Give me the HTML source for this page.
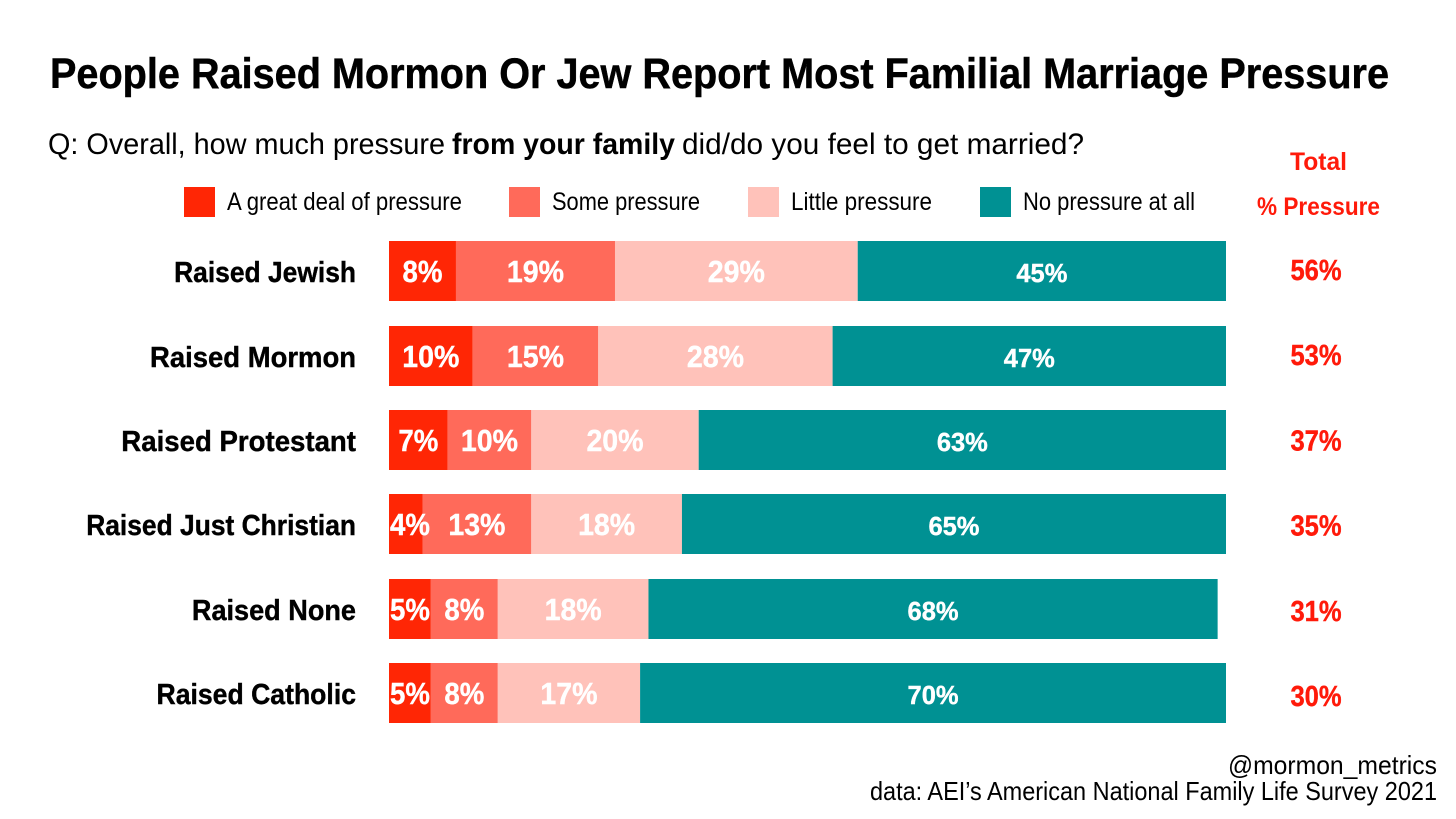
<!DOCTYPE html>
<html lang="en">
<head>
<meta charset="utf-8">
<title>People Raised Mormon Or Jew Report Most Familial Marriage Pressure</title>
<style>
html,body{margin:0;padding:0;background:#fff;width:1456px;height:819px;overflow:hidden}
svg{display:block}
text{font-family:"Liberation Sans",sans-serif}
.b{font-weight:700}
</style>
</head>
<body>
<svg id="chart" xmlns="http://www.w3.org/2000/svg" width="1456" height="819" viewBox="0 0 1456 819">
<rect width="1456" height="819" fill="#fff"/>
<text class="b" x="50" y="88" font-size="43" fill="#000" stroke="#000" stroke-width="0.5" textLength="1339" lengthAdjust="spacingAndGlyphs">People Raised Mormon Or Jew Report Most Familial Marriage Pressure</text>
<text y="154" font-size="30" fill="#000"><tspan x="48" textLength="397" lengthAdjust="spacingAndGlyphs">Q: Overall, how much pressure</tspan><tspan class="b" x="452" textLength="223" lengthAdjust="spacingAndGlyphs">from your family</tspan><tspan x="682" textLength="402" lengthAdjust="spacingAndGlyphs">did/do you feel to get married?</tspan></text>

<g>
<rect x="184" y="187" width="31" height="30" fill="#ff2605"/>
<text x="227" y="210" font-size="25" textLength="235" lengthAdjust="spacingAndGlyphs">A great deal of pressure</text>
<rect x="509" y="187" width="31" height="30" fill="#ff6a5a"/>
<text x="552" y="210" font-size="25" textLength="148" lengthAdjust="spacingAndGlyphs">Some pressure</text>
<rect x="748" y="187" width="31" height="30" fill="#ffc2ba"/>
<text x="791" y="210" font-size="25" textLength="141" lengthAdjust="spacingAndGlyphs">Little pressure</text>
<rect x="980" y="187" width="31" height="30" fill="#009193"/>
<text x="1023" y="210" font-size="25" textLength="172" lengthAdjust="spacingAndGlyphs">No pressure at all</text>
</g>

<text class="b" x="1290" y="170" font-size="25" fill="#ff1a0a" textLength="57" lengthAdjust="spacingAndGlyphs">Total</text>
<text class="b" x="1257" y="215" font-size="25" fill="#ff1a0a" textLength="123" lengthAdjust="spacingAndGlyphs">% Pressure</text>

<g id="plot"></g>

<text x="1437" y="774" font-size="26" text-anchor="end" textLength="209" lengthAdjust="spacingAndGlyphs">@mormon_metrics</text>
<text x="1437" y="800" font-size="26" text-anchor="end" textLength="567" lengthAdjust="spacingAndGlyphs">data: AEI’s American National Family Life Survey 2021</text>
</svg>
<script>
const categories = ["Raised Jewish", "Raised Mormon", "Raised Protestant", "Raised Just Christian", "Raised None", "Raised Catholic"];
const greatDeal = [8, 10, 7, 4, 5, 5];
const somePressure = [19, 15, 10, 13, 8, 8];
const littlePressure = [29, 28, 20, 18, 18, 17];
const noPressure = [45, 47, 63, 65, 68, 70];
const totalPressure = [56, 53, 37, 35, 31, 30];

const seriesNames = ["great-deal", "some", "little", "none"];
const seriesValues = [greatDeal, somePressure, littlePressure, noPressure];
const seriesColors = ["#ff2605", "#ff6a5a", "#ffc2ba", "#009193"];
const categoryFit = {"Raised Jewish": 0.91, "Raised Mormon": 0.947, "Raised Protestant": 0.952, "Raised Just Christian": 0.91, "Raised None": 0.934, "Raised Catholic": 0.917};

const NS = "http://www.w3.org/2000/svg";
const plot = document.getElementById("plot");
function xScale(v) { return 389 + Math.min(v, 100) * 8.37; }
function yBar(i) { return Math.round(241.2 + i * 84.4); }
function yTotal(i) { return 271 + i * 85.2; }
const barHeight = 60;

function makeText(str, x, y, size, fill, anchor, squeeze) {
  const t = document.createElementNS(NS, "text");
  t.textContent = str;
  t.setAttribute("x", x);
  t.setAttribute("y", y);
  t.setAttribute("font-size", size);
  t.setAttribute("font-weight", "700");
  t.setAttribute("fill", fill);
  t.setAttribute("stroke", fill);
  t.setAttribute("stroke-width", "0.4");
  t.setAttribute("text-anchor", anchor);
  plot.appendChild(t);
  t.setAttribute("textLength", (t.getComputedTextLength() * squeeze).toFixed(1));
  t.setAttribute("lengthAdjust", "spacingAndGlyphs");
  return t;
}

categories.forEach(function (cat, i) {
  const label = makeText(cat, 356, yBar(i) + 41, 29, "#000", "end", categoryFit[cat] || 0.93);
  
  

  let cum = 0;
  seriesValues.forEach(function (vals, s) {
    const v = vals[i];
    const x0 = xScale(cum);
    const x1 = xScale(cum + v);
    cum += v;
    const r = document.createElementNS(NS, "rect");
    r.setAttribute("x", x0);
    r.setAttribute("y", yBar(i));
    r.setAttribute("width", Math.max(0, x1 - x0));
    r.setAttribute("height", barHeight);
    r.setAttribute("fill", seriesColors[s]);
    
    
    r.setAttribute("data-series", seriesNames[s]);
    plot.appendChild(r);
  });

  cum = 0;
  seriesValues.forEach(function (vals, s) {
    const v = vals[i];
    const x0 = xScale(cum);
    const x1 = xScale(cum + v);
    cum += v;
    const cx = Math.max((x0 + x1) / 2, x0 + 21);
    const str = v + "%";
    const vt = makeText(str, cx, yBar(i) + 41, s === 3 ? 26 : 31, "#fff", "middle", s === 3 ? 0.98 : (str.length === 2 ? 0.89 : 0.92));
    
    
  });

  const tot = makeText(totalPressure[i] + "%", 1316, yTotal(i) + 9, 29, "#ff1a0a", "middle", 0.88);
  
  
});
</script>
</body>
</html>
